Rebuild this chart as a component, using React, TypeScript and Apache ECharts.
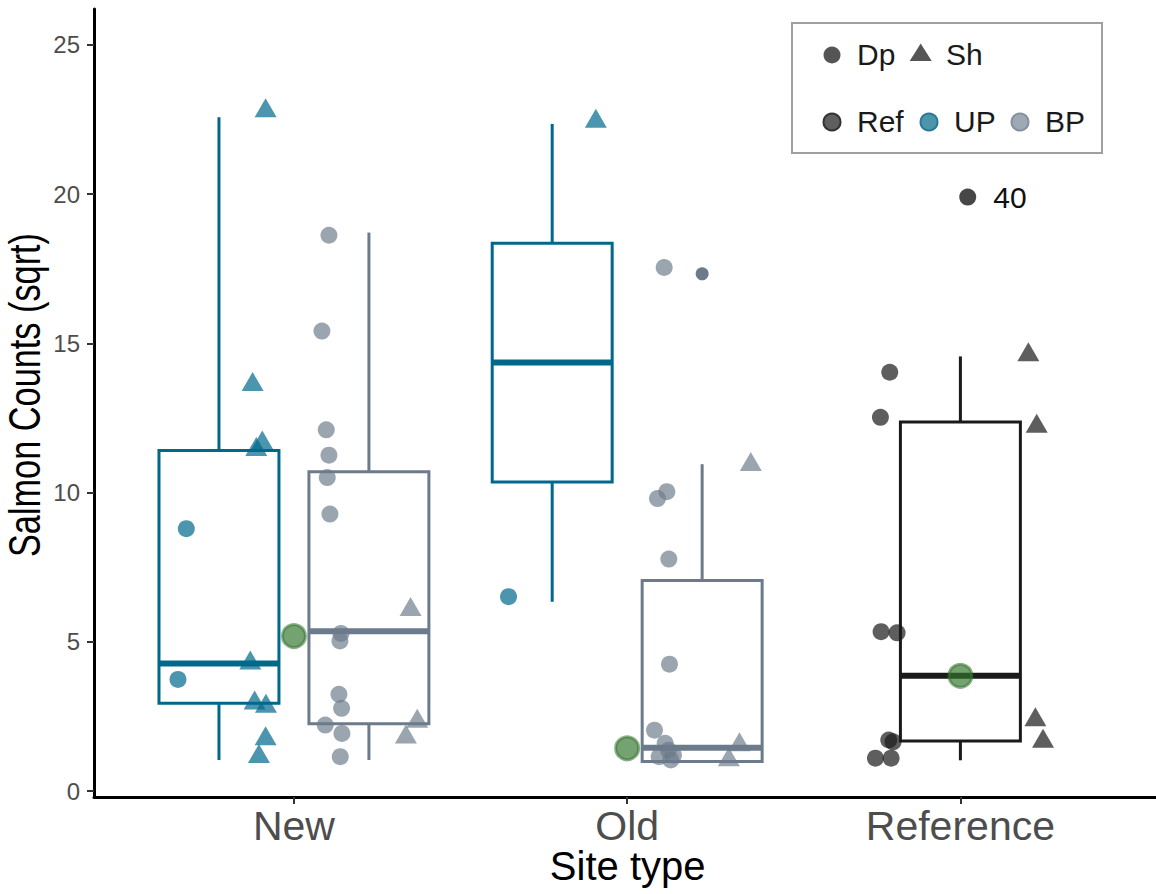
import React, { useEffect, useRef } from "react";
import * as echarts from "echarts";

const FONT = "Liberation Sans, Arial, Helvetica, sans-serif";

// ---- data ----
const categories = ["New", "Old", "Reference"];
const yTicks = [0, 5, 10, 15, 20, 25];

// box stats: [category position, lower whisker, q1, median, q3, upper whisker]
const upBoxStats = [
  [1, 1.04, 2.94, 4.27, 11.41, 22.57],
  [2, 6.34, 10.35, 14.36, 18.35, 22.35],
];
const bpBoxStats = [
  [1, 1.04, 2.25, 5.35, 10.7, 18.71],
  [2, 0.99, 0.99, 1.45, 7.05, 10.95],
];
const refBoxStats = [[3, 1.03, 1.68, 3.86, 12.36, 14.56]];

// jittered observations [x, sqrt count]
const upDp = [[0.677, 8.79], [0.652, 3.74], [1.644, 6.51]];
const upSh = [
  [0.915, 22.89], [0.876, 13.72], [0.905, 11.76], [0.887, 11.54], [0.869, 4.39],
  [0.882, 3.05], [0.916, 2.94], [0.915, 1.85], [0.895, 1.26], [1.906, 22.54],
];
const bpDp = [
  [1.105, 18.62], [1.084, 15.41], [1.097, 12.1], [1.105, 11.25], [1.1, 10.5],
  [1.108, 9.28], [1.141, 5.28], [1.138, 5.03], [1.135, 3.24], [1.143, 2.77],
  [1.094, 2.21], [1.144, 1.93], [1.139, 1.15],
  [2.111, 17.54], [2.119, 10.03], [2.091, 9.8], [2.125, 7.77], [2.127, 4.25],
  [2.082, 2.04], [2.114, 1.6], [2.124, 1.37], [2.096, 1.15], [2.131, 1.04], [2.139, 1.2],
];
const bpSh = [
  [1.35, 6.18], [1.37, 2.44], [1.336, 1.91], [2.371, 11.04], [2.337, 1.65], [2.305, 1.15],
];
const refDp = [
  [2.788, 14.03], [2.76, 12.52], [2.762, 5.34], [2.81, 5.3],
  [2.785, 1.71], [2.798, 1.65], [2.745, 1.1], [2.792, 1.1],
];
const refSh = [[3.204, 14.72], [3.229, 12.32], [3.225, 2.49], [3.248, 1.77]];
const bpOutliers = [[2.225, 17.33]];
const labelledPoint = [[3.022, 19.9]];
const labelledPointId = "40";
const means = [[1, 5.19], [2, 1.43], [3, 3.86]];

// ---- styling ----
const UP = "#00688B";
const BP = "#6C7B8B";
const REF = "#1A1A1A";
const DODGE = 0.225;
const BOX_W = 0.36;

function boxSeries(name: string, stats: number[][], offset: number, color: string) {
  return {
    type: "custom",
    name,
    data: stats.map(([c, ...r]) => [c + offset, ...r]),
    encode: { x: 0, y: [1, 2, 3, 4, 5] },
    z: 1,
    renderItem: (params: any, api: any) => {
      const x = api.value(0);
      const lo = api.value(1);
      const q1 = api.value(2);
      const med = api.value(3);
      const q3 = api.value(4);
      const hi = api.value(5);
      const half = api.size([BOX_W, 0])[0] / 2;
      const pLo = api.coord([x, lo]);
      const pQ1 = api.coord([x, q1]);
      const pMed = api.coord([x, med]);
      const pQ3 = api.coord([x, q3]);
      const pHi = api.coord([x, hi]);
      const st = { stroke: color, lineWidth: 3, fill: "none" };
      return {
        type: "group",
        children: [
          { type: "line", shape: { x1: pQ3[0], y1: pQ3[1], x2: pHi[0], y2: pHi[1] }, style: st },
          { type: "line", shape: { x1: pLo[0], y1: pLo[1], x2: pQ1[0], y2: pQ1[1] }, style: st },
          {
            type: "rect",
            shape: { x: pQ3[0] - half, y: pQ3[1], width: half * 2, height: pQ1[1] - pQ3[1] },
            style: { stroke: color, lineWidth: 3, fill: "#fff" },
          },
          {
            type: "line",
            shape: { x1: pMed[0] - half, y1: pMed[1], x2: pMed[0] + half, y2: pMed[1] },
            style: { stroke: color, lineWidth: 6 },
          },
        ],
      };
    },
  };
}

function pointSeries(data: number[][], symbol: string, size: any, color: string, extra: any = {}) {
  return {
    type: "scatter",
    data,
    symbol,
    symbolSize: size,
    z: 3,
    itemStyle: { color, borderWidth: 0, opacity: 1 },
    ...extra,
  };
}

const CIRCLE = 17;
const TRI = [22, 19];

export default function App() {
  const ref = useRef<HTMLDivElement>(null);
  useEffect(() => {
    if (!ref.current) return;
    const chart = echarts.init(ref.current, undefined, { renderer: "svg" });
    const axisTick = { show: true, length: 7, lineStyle: { color: "#333", width: 2 } };
    chart.setOption({
      animation: false,
      backgroundColor: "#fff",
      grid: { left: 94, right: 0, top: 9, bottom: 97, containLabel: false },
      xAxis: {
        type: "value",
        min: 0.4,
        max: 3.587,
        splitLine: { show: false },
        axisLine: { show: true, onZero: false, lineStyle: { color: "#000", width: 3 } },
        axisTick: { ...axisTick, customValues: [1, 2, 3] },
        axisLabel: {
          customValues: [1, 2, 3],
          formatter: (v: number) => categories[Math.round(v) - 1],
          fontSize: 41,
          fontFamily: FONT,
          color: "#4d4d4d",
          margin: 8,
        },
      },
      yAxis: {
        type: "value",
        min: -0.2,
        max: 26.2,
        splitLine: { show: false },
        axisLine: { show: true, onZero: false, lineStyle: { color: "#000", width: 3 } },
        axisTick: { ...axisTick, customValues: yTicks },
        axisLabel: {
          customValues: yTicks,
          fontSize: 24,
          fontFamily: FONT,
          color: "#4d4d4d",
          margin: 14,
        },
      },
      series: [
        boxSeries("UP box", upBoxStats, -DODGE, UP),
        boxSeries("BP box", bpBoxStats, DODGE, BP),
        boxSeries("Ref box", refBoxStats, 0, REF),
        pointSeries(upDp, "circle", CIRCLE, "rgba(0,104,139,0.7)"),
        pointSeries(upSh, "triangle", TRI, "rgba(0,104,139,0.7)"),
        pointSeries(bpDp, "circle", CIRCLE, "rgba(108,123,139,0.68)"),
        pointSeries(bpSh, "triangle", TRI, "rgba(108,123,139,0.68)"),
        pointSeries(refDp, "circle", CIRCLE, "rgba(26,26,26,0.7)"),
        pointSeries(refSh, "triangle", TRI, "rgba(26,26,26,0.7)"),
        pointSeries(bpOutliers, "circle", 13, BP),
        pointSeries(labelledPoint, "circle", CIRCLE, "#474747", {
          label: {
            show: true,
            position: "right",
            distance: 17,
            formatter: labelledPointId,
            fontSize: 30,
            fontFamily: FONT,
            color: "#111",
          },
        }),
        {
          type: "scatter",
          data: means,
          symbol: "circle",
          symbolSize: 23,
          z: 4,
          itemStyle: {
            color: "rgba(52,118,46,0.68)",
            borderColor: "rgba(52,118,46,0.58)",
            borderWidth: 3,
            opacity: 1,
          },
        },
      ],
      graphic: [
        {
          type: "text",
          x: 24,
          y: 395,
          rotation: Math.PI / 2,
          scaleX: 0.78,
          style: {
            text: "Salmon Counts (sqrt)",
            fontSize: 44,
            fontFamily: FONT,
            fill: "#000",
            textAlign: "center",
            textVerticalAlign: "middle",
          },
        },
        {
          type: "text",
          x: 627.7,
          y: 866,
          style: {
            text: "Site type",
            fontSize: 40,
            fontFamily: FONT,
            fill: "#000",
            textAlign: "center",
            textVerticalAlign: "middle",
          },
        },
        {
          type: "rect",
          shape: { x: 792, y: 23, width: 310, height: 130 },
          style: { fill: "#fff", stroke: "#a0a0a0", lineWidth: 2 },
          z: 10,
        },
        { type: "circle", shape: { cx: 832, cy: 55, r: 8.5 }, style: { fill: "#555" }, z: 11 },
        {
          type: "polygon",
          shape: { points: [[920.7, 43.5], [931.7, 61], [909.7, 61]] },
          style: { fill: "#555" },
          z: 11,
        },
        { type: "circle", shape: { cx: 832, cy: 122, r: 8.5 }, style: { fill: "#5f5f5f", stroke: "#333", lineWidth: 2 }, z: 11 },
        { type: "circle", shape: { cx: 929, cy: 122, r: 8.5 }, style: { fill: "#4c95ad", stroke: "#2a7a96", lineWidth: 2 }, z: 11 },
        { type: "circle", shape: { cx: 1020, cy: 122, r: 8.5 }, style: { fill: "#9fa9b4", stroke: "#8591a0", lineWidth: 2 }, z: 11 },
        ...[
          ["Dp", 857, 54],
          ["Sh", 946, 54],
          ["Ref", 857, 121],
          ["UP", 954, 121],
          ["BP", 1045, 121],
        ].map(([t, x, y]) => ({
          type: "text",
          x,
          y,
          z: 11,
          style: {
            text: t,
            fontSize: 30,
            fontFamily: FONT,
            fill: "#1a1a1a",
            textAlign: "left",
            textVerticalAlign: "middle",
          },
        })),
      ],
    });
    return () => chart.dispose();
  }, []);
  return (
    <div
      ref={ref}
      style={{ position: "absolute", left: 0, top: 0, width: 1156, height: 894 }}
    />
  );
}
